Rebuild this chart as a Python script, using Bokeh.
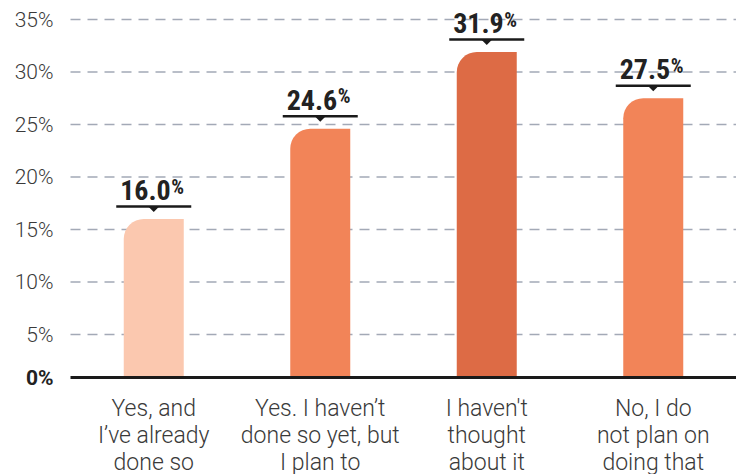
from bokeh.plotting import figure
from bokeh.models import Range1d, FixedTicker, ColumnDataSource
from bokeh.embed import file_html
from bokeh.resources import INLINE
from bokeh.core.properties import value

categories = [
    "Yes, and\nI\u2019ve already\ndone so",
    "Yes. I haven\u2019t\ndone so yet, but\nI plan to",
    "I haven't\nthought\nabout it",
    "No, I do\nnot plan on\ndoing that",
]
values = [16.0, 24.6, 31.9, 27.5]
colors = ["#FBC8AF", "#F28458", "#DD6B45", "#F28458"]
y_ticks = [5, 10, 15, 20, 25, 30, 35]
y_tick_labels = ["5%", "10%", "15%", "20%", "25%", "30%", "35%"]
zero_label = "0%"

# layout (pixels)
LEFT_PAD = 70            # space for y labels inside the frame
CAT_PX = 166.5           # width of one category
PPU = 10.5               # pixels per percentage point
FRAME_H = 392
BOTTOM_BORDER = 82
ZERO_PX = 386.5          # pixel row (from top) of value 0
BASE_PX = 377            # pixel row of baseline

n = len(categories)
FRAME_W = int(LEFT_PAD + n * CAT_PX)

def dy(px):
    return px / PPU

def dx(px):
    return px / CAT_PX

Y_TOP = ZERO_PX / PPU
Y_BOT = (ZERO_PX - FRAME_H) / PPU
Y_BASE = (ZERO_PX - BASE_PX) / PPU

xs = [i + 0.5 for i in range(n)]

p = figure(frame_width=FRAME_W, frame_height=FRAME_H,
           x_range=Range1d(-dx(LEFT_PAD), n), y_range=Range1d(Y_BOT, Y_TOP),
           output_backend="svg", toolbar_location=None, y_axis_location=None,
           min_border_left=0, min_border_right=0, min_border_top=0,
           min_border_bottom=BOTTOM_BORDER)
p.outline_line_color = None
p.background_fill_color = "white"
p.border_fill_color = "white"
p.xgrid.grid_line_color = None
p.ygrid.grid_line_color = None

# dashed gridlines
p.segment(x0=[0] * len(y_ticks), x1=[n] * len(y_ticks), y0=y_ticks, y1=y_ticks,
          line_color="#A3A9B6", line_dash="10 7", line_width=1.3)

# y labels
p.text(x=[-dx(17)] * len(y_ticks), y=y_ticks, text=y_tick_labels,
       text_align="right", text_baseline="middle",
       text_font=value("Roboto Light"), text_font_size="21px",
       text_color="#3a3a3a")
p.text(x=[-dx(17)], y=[Y_BASE], text=[zero_label], text_align="right",
       text_baseline="middle", text_font=value("Roboto"),
       text_font_style="bold", text_font_size="21px", text_color="#222222")

# x axis (category labels)
p.xaxis.ticker = FixedTicker(ticks=xs)
p.xaxis.major_label_overrides = {x: c for x, c in zip(xs, categories)}
p.xaxis.axis_line_color = None
p.xaxis.major_tick_line_color = None
p.xaxis.minor_tick_line_color = None
p.xaxis.major_tick_out = 0
p.xaxis.major_tick_in = 0
p.xaxis.major_label_standoff = 2
p.xaxis.major_label_text_font = "Roboto Light"
p.xaxis.major_label_text_font_size = "23px"
p.xaxis.major_label_text_color = "#3a3a3a"
p.xaxis.major_label_text_line_height = 1.0

# bars
src = ColumnDataSource(dict(x=xs, top=values, color=colors))
p.vbar(x="x", top="top", bottom=Y_BASE, width=dx(60), fill_color="color",
       line_color=None, border_radius=(20, 0, 0, 0), source=src)

# baseline
p.segment(x0=[0], x1=[n], y0=[Y_BASE], y1=[Y_BASE], line_width=3,
          line_color="#1a1a1a")

# value callouts
line_y = [v + dy(12.5) for v in values]
p.segment(x0=[x - dx(37.5) for x in xs], x1=[x + dx(37.5) for x in xs],
          y0=line_y, y1=line_y, line_width=2.5, line_color="#1a1a1a")
p.patches(xs=[[x - dx(5.5), x + dx(5.5), x] for x in xs],
          ys=[[ly, ly, ly - dy(5.5)] for ly in line_y],
          fill_color="#1a1a1a", line_color=None)
num_font = value("'Roboto Condensed', Roboto")
p.text(x=[x + dx(17) for x in xs], y=[v + dy(29.2) for v in values],
       text=[f"{v:.1f}" for v in values], text_align="right",
       text_baseline="middle", text_font=num_font,
       text_font_style="bold", text_font_size="28px", text_color="#222222")
p.text(x=[x + dx(17.5) for x in xs], y=[v + dy(32.5) for v in values],
       text=["%"] * n, text_align="left",
       text_baseline="middle", text_font=num_font,
       text_font_style="bold", text_font_size="20px", text_color="#222222")

open("out.html", "w").write(file_html(p, INLINE))
